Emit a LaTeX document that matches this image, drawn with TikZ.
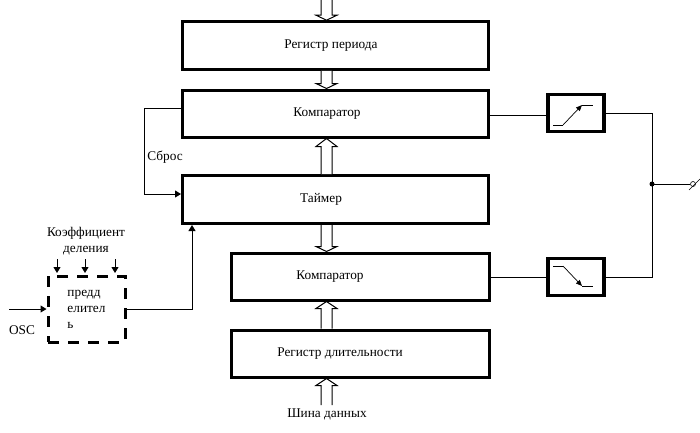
\documentclass[tikz,border=0pt]{standalone}
\usepackage{fontspec}
\setmainfont{Liberation Serif}
\usetikzlibrary{calc}
\usetikzlibrary{arrows.meta}
\tikzset{
  blockbox/.style={draw,line width=3pt,minimum height=#1,inner sep=0pt},
  switchbox/.style={draw,line width=3.5pt,minimum width=56pt,minimum height=37pt,inner sep=0pt},
  prescaler/.style={draw,line width=3pt,dash pattern=on 11pt off 9pt,minimum width=77pt,minimum height=66pt,inner sep=0pt},
  label/.style={inner sep=0pt},
  wire/.style={line width=1pt},
  signal/.style={wire,-{Triangle[length=6pt,width=7pt]}},
  bus/.style={wire,fill=white,to path={
    let \p1=(\tikztostart),\p2=(\tikztotarget),\n1={(\y2>\y1?1:-1)*#1} in
    ({\x1-5.5pt},\y1) -- ({\x2-5.5pt},{\y2-\n1}) -- ({\x2-10.5pt},{\y2-\n1}) -- (\p2)
    -- ({\x2+10.5pt},{\y2-\n1}) -- ({\x2+5.5pt},{\y2-\n1}) -- ({\x1+5.5pt},\y1)}}
}
\begin{document}
\begin{tikzpicture}[x=1pt,y=-1pt,font=\fontsize{13.3}{16}\selectfont]
  \useasboundingbox (0,0) rectangle (700,432);

  \coordinate (databus) at (326.5,0);
  \coordinate (busin) at (326.5,405);
  \coordinate (oscin) at (9,309);
  \coordinate (sw1in) at (547,115);
  \coordinate (output) at (690,184);
  \coordinate (cutA) at (689,190);
  \coordinate (cutB) at (700,179);

  \node[blockbox=47.6pt,minimum width=306pt] (regper) at (335.5,45.5) {\kern-9pt Регистр периода};
  \node[blockbox=47pt,minimum width=306pt] (comp1) at (335.5,113.5) {\kern-17pt Компаратор};
  \node[blockbox=48pt,minimum width=306pt] (timer) at (335.5,199.5) {\kern-29pt Таймер};
  \node[blockbox=47pt,minimum width=258pt] (comp2) at (360,276.5) {\kern-60pt Компаратор};
  \node[blockbox=47pt,minimum width=258pt] (regdur) at (360,353.5) {\kern-40pt Регистр длительности};

  \node[switchbox] (sw1) at (576,113) {};
  \node[switchbox] (sw2) at (576,277) {};
  \node[prescaler,align=left] (presc) at (86.5,309) {предд\\елител\\ь};

  \node[label] (reset) at (165,157) {Сброс};
  \node[label,align=center] (ratio) at (86,241) {Коэффициент\\деления};
  \node[label] (osc) at (22,330) {OSC};
  \node[label] (datalbl) at (327,414) {Шина данных};

  \draw[bus=5pt] (databus) to (databus |- regper.north);
  \draw[bus=5pt] (databus |- regper.south) to (databus |- comp1.north);
  \draw[bus=8pt] (databus |- timer.north) to (databus |- comp1.south);
  \draw[bus=5pt] (databus |- timer.south) to (databus |- comp2.north);
  \draw[bus=7pt] (databus |- regdur.north) to (databus |- comp2.south);
  \draw[bus=7pt] (busin) to (databus |- regdur.south);

  \draw[signal] (comp1.west |- 0,108) -- (144,108) -- (144,194) -- (timer.west |- 0,194);
  \draw[signal] (presc.east) -- (192,309) -- (timer.south -| 192,0);
  \draw[signal] (oscin) -- (presc.west);
  \foreach \x in {57,85,115}
    \draw[signal] (\x,259) -- (\x,273);

  \draw[wire] (sw1in -| comp1.east) -- (sw1in);
  \draw[wire] (sw2.west -| comp2.east) -- (sw2.west);
  \node[circle,fill,inner sep=0pt,minimum size=5pt] (junct) at (652,184) {};
  \draw[wire] (sw1.east) -- (junct |- sw1.east) -- (junct.center) -- (junct |- sw2.east) -- (sw2.east);
  \draw[wire] (junct.center) -- (output);
  \node[circle,draw,line width=0.6pt,inner sep=0pt,minimum size=5pt] (outring) at (693,184) {};
  \draw[line width=0.6pt] (cutA) -- (cutB);

  \draw[wire] (553,125) -- (563,125);
  \draw[line width=0.7pt,-{Triangle[length=6pt,width=5pt]}] (563,125) -- (582,105);
  \draw[wire] (582,105) -- (593,105);
  \draw[wire] (553,266) -- (563,266);
  \draw[line width=0.7pt,-{Triangle[length=6pt,width=5pt]}] (563,266) -- (582,286);
  \draw[wire] (582,286) -- (593,286);
\end{tikzpicture}
\end{document}
